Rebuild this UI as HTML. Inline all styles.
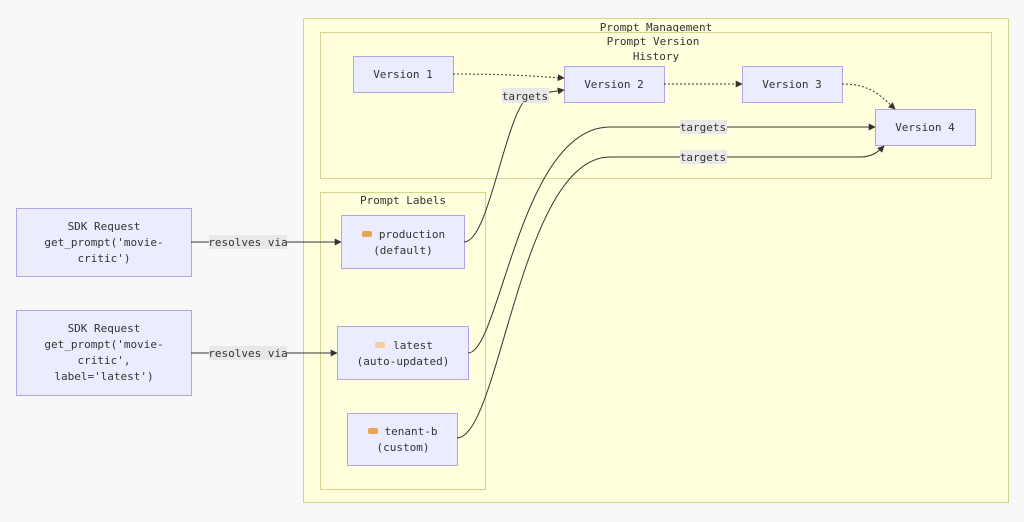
<!DOCTYPE html>
<html><head><style>body{margin:0;background:#f8f8f8}svg{display:block}text{font-family:"DejaVu Sans Mono","Liberation Mono",monospace;font-size:11px;fill:#333}</style></head><body>
<svg width="1024" height="522" viewBox="0 0 1024 522">
<defs><marker id="a" viewBox="0 0 10 10" refX="9" refY="5" markerWidth="7" markerHeight="7" orient="auto"><path d="M0,0L10,5L0,10z" fill="#333"/></marker></defs>
<rect x="0" y="0" width="1024" height="522" fill="#f8f8f8"/>
<rect x="303.5" y="18.5" width="705" height="484" fill="#ffffde" stroke="#d4d48a"/>
<text x="656" y="31" text-anchor="middle">Prompt Management</text>
<rect x="320.5" y="32.5" width="671" height="146" fill="#ffffde" stroke="#d4d48a"/>
<text x="653" y="45" text-anchor="middle">Prompt Version</text>
<text x="656" y="60" text-anchor="middle">History</text>
<rect x="320.5" y="192.5" width="165" height="297" fill="#ffffde" stroke="#d4d48a"/>
<text x="403" y="204" text-anchor="middle">Prompt Labels</text>
<g fill="#ececff" stroke="#b5a3ea">
<rect x="353.5" y="56.5" width="100" height="36"/>
<rect x="564.5" y="66.5" width="100" height="36"/>
<rect x="742.5" y="66.5" width="100" height="36"/>
<rect x="875.5" y="109.5" width="100" height="36"/>
<rect x="341.5" y="215.5" width="123" height="53"/>
<rect x="337.5" y="326.5" width="131" height="53"/>
<rect x="347.5" y="413.5" width="110" height="52"/>
<rect x="16.5" y="208.5" width="175" height="68"/>
<rect x="16.5" y="310.5" width="175" height="85"/>
</g>
<g fill="none" stroke="#333" stroke-width="1">
<path d="M453,74 C510,74 530,76 564,78" stroke-dasharray="2,2" marker-end="url(#a)"/>
<path d="M664,84 L742,84" stroke-dasharray="2,2" marker-end="url(#a)"/>
<path d="M842,84 C870,84 880,95 895,109" stroke-dasharray="2,2" marker-end="url(#a)"/>
<path d="M191,242 L341,242" marker-end="url(#a)"/>
<path d="M191,353 L337,353" marker-end="url(#a)"/>
<path d="M464,242 C490,242 505,110 530,95 L564,90" marker-end="url(#a)"/>
<path d="M468,353 C500,353 520,127 610,127 L875,127" marker-end="url(#a)"/>
<path d="M457,438 C500,438 520,157 610,157 L860,157 C872,157 878,152 884,146" marker-end="url(#a)"/>
</g>
<g fill="#e8e8e8">
<rect x="209" y="235" width="78" height="14"/>
<rect x="209" y="346" width="78" height="14"/>
<rect x="502" y="88" width="47" height="15"/>
<rect x="680" y="120" width="47" height="14"/>
<rect x="680" y="150" width="47" height="14"/>
</g>
<text x="248" y="246" text-anchor="middle">resolves via</text>
<text x="248" y="357" text-anchor="middle">resolves via</text>
<text x="525" y="100" text-anchor="middle">targets</text>
<text x="703" y="131" text-anchor="middle">targets</text>
<text x="703" y="161" text-anchor="middle">targets</text>
<g text-anchor="middle">
<text x="403" y="78">Version 1</text>
<text x="614" y="88">Version 2</text>
<text x="792" y="88">Version 3</text>
<text x="925" y="131">Version 4</text>
<text x="412" y="238">production</text>
<text x="403" y="254">(default)</text>
<text x="413" y="349">latest</text>
<text x="403" y="365">(auto-updated)</text>
<text x="411" y="435">tenant-b</text>
<text x="403" y="451">(custom)</text>
<text x="104" y="230">SDK Request</text>
<text x="104" y="246">get_prompt('movie-</text>
<text x="104" y="262">critic')</text>
<text x="104" y="332">SDK Request</text>
<text x="104" y="348">get_prompt('movie-</text>
<text x="104" y="364">critic',</text>
<text x="104" y="380">label='latest')</text>
</g>
<rect x="362" y="231" width="10" height="6" rx="2" fill="#e9a45a"/>
<rect x="375" y="342" width="10" height="6" rx="2" fill="#f2cfa3"/>
<rect x="368" y="428" width="10" height="6" rx="2" fill="#e9a45a"/>
</svg>
</body></html>
